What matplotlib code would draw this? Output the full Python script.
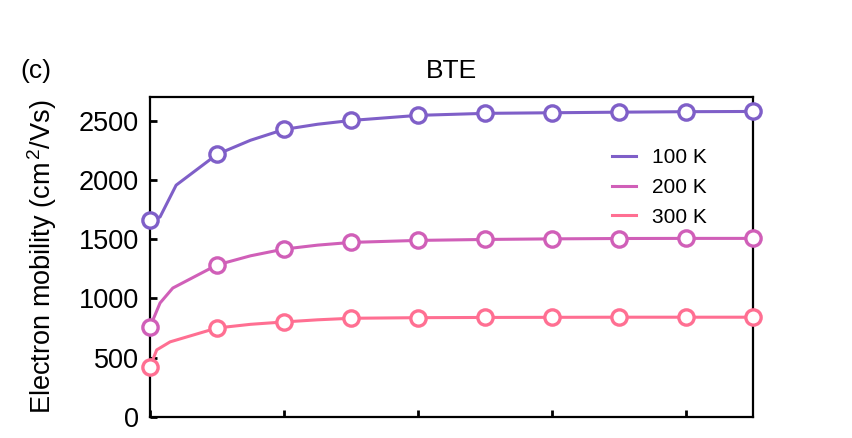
import matplotlib
matplotlib.use("Agg")
import matplotlib.pyplot as plt

# ---- data ----
temps = ["100 K", "200 K", "300 K"]
colors = ["#7f5fc8", "#d05fb8", "#ff6f92"]

x_marks = [0, 1, 2, 3, 4, 5, 6, 7, 8, 9]
mob_100 = [1661, 2216, 2426, 2502, 2545, 2562, 2567, 2572, 2576, 2578]
mob_200 = [760, 1283, 1417, 1473, 1490, 1498, 1503, 1506, 1507, 1507]
mob_300 = [423, 751, 802, 833, 838, 840, 841, 842, 842, 842]

# curve (finer sampling)
x_line_100 = [0, 0.15, 0.39, 1, 1.5, 2, 2.5, 3, 4, 5, 6, 7, 8, 9]
line_100 = [1661, 1688, 1956, 2216, 2335, 2426, 2470, 2502, 2545, 2562, 2567, 2572, 2576, 2578]
x_line_200 = [0, 0.15, 0.34, 1, 1.5, 2, 2.5, 3, 4, 5, 6, 7, 8, 9]
line_200 = [760, 962, 1088, 1283, 1360, 1417, 1450, 1473, 1490, 1498, 1503, 1506, 1507, 1507]
x_line_300 = [0, 0.1, 0.3, 1, 1.5, 2, 2.5, 3, 4, 5, 6, 7, 8, 9]
line_300 = [423, 566, 634, 751, 782, 802, 820, 833, 838, 840, 841, 842, 842, 842]

x_ticks = [0, 2, 4, 6, 8]
y_ticks = [0, 500, 1000, 1500, 2000, 2500]

plt.rcParams['font.family'] = ['Liberation Sans', 'DejaVu Sans']
plt.rcParams['mathtext.fontset'] = 'custom'
plt.rcParams['mathtext.rm'] = 'Liberation Sans'
plt.rcParams['mathtext.it'] = 'Liberation Sans'

fig = plt.figure(figsize=(8.52, 4.38), dpi=100)
ax = fig.add_axes([150/852, 1-417/438, (753-150)/852, (417-97)/438])

lines_x = [x_line_100, x_line_200, x_line_300]
lines_y = [line_100, line_200, line_300]
marks_y = [mob_100, mob_200, mob_300]

for lab, c, lx, ly, my in zip(temps, colors, lines_x, lines_y, marks_y):
    ax.plot(lx, ly, color=c, lw=2.2, label=lab, zorder=3, clip_on=False)
    ax.plot(x_marks, my, linestyle='none', marker='o', ms=11, mfc='white',
            mec=c, mew=2.4, zorder=5, clip_on=False)

ax.set_xlim(0, 9)
ax.set_ylim(0, 2700)
ax.set_xticks(x_ticks)
ax.set_yticks(y_ticks)
ax.set_xticklabels([])
ax.tick_params(axis='both', direction='in', length=5, width=2, labelsize=19.5, pad=8)
ax.tick_params(axis='x', labelbottom=False)
for s in ax.spines.values():
    s.set_linewidth(1.6)

ax.set_ylabel("Electron mobility (cm$^{\\,2}$/Vs)", fontsize=19.5, labelpad=14)
ax.set_title("BTE", fontsize=19, pad=14)
fig.text(20/852, 1-71/438, "(c)", fontsize=19, va='center', ha='left')

leg = ax.legend(loc='upper left', bbox_to_anchor=(612/852, 1-148/438),
                bbox_transform=fig.transFigure, frameon=False, borderpad=0,
                borderaxespad=0, fontsize=15, handlelength=1.15,
                handletextpad=0.75, labelspacing=0.52)

fig.savefig("out.png", dpi=100)
